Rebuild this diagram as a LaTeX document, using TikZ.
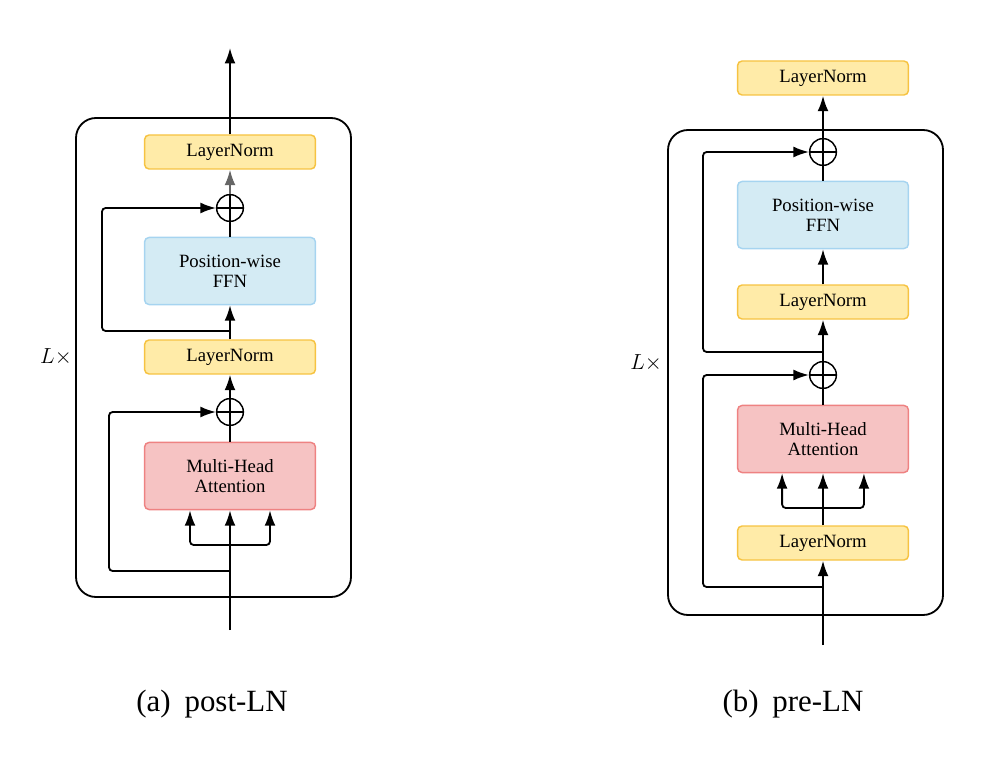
\documentclass[tikz,border=0pt]{standalone}
\usepackage{fontspec}
\setmainfont{Liberation Serif}
\usetikzlibrary{arrows.meta}
\definecolor{lnfill}{HTML}{FFEBA8}
\definecolor{lndraw}{HTML}{F6C342}
\definecolor{ffnfill}{HTML}{D4EBF4}
\definecolor{ffndraw}{HTML}{A6D4F0}
\definecolor{mhafill}{HTML}{F6C3C3}
\definecolor{mhadraw}{HTML}{EE8282}
\begin{document}
\begin{tikzpicture}[x=0.55pt,y=-0.55pt,>={Latex[length=8.5pt,width=6pt]},line width=1pt,
	blk/.style={rectangle,rounded corners=2.5pt,line width=0.8pt,minimum width=94pt,align=center,inner sep=1pt,font=\fontsize{10.3}{11}\selectfont},
	ln/.style={blk,fill=lnfill,draw=lndraw,minimum height=18.7pt},
	ffn/.style={blk,fill=ffnfill,draw=ffndraw,minimum height=36.9pt},
	mha/.style={blk,fill=mhafill,draw=mhadraw,minimum height=36.9pt},
	add/.style={circle,draw,line width=0.8pt,minimum size=14.7pt,inner sep=0pt,
		path picture={\draw[line width=0.8pt] (path picture bounding box.north) -- (path picture bounding box.south)
		(path picture bounding box.west) -- (path picture bounding box.east);}},
	res/.style={->,rounded corners=2pt},
	captxt/.style={font=\fontsize{17}{20}\selectfont},
	reptxt/.style={font=\fontsize{12}{14}\selectfont}]
		\useasboundingbox (0,0) rectangle (997,759);
		% (a) post-LN
		\draw[rounded corners=11pt] (76,118) rectangle (351,597);
		\node[ln] (lnTopA) at (230,152) {LayerNorm};
		\node[add] (addFA) at (230,208) {};
		\node[ffn] (ffnA) at (230,271) {Position-wise\\FFN};
		\node[ln] (lnMidA) at (230,357) {LayerNorm};
		\node[add] (addAA) at (230,412) {};
		\node[mha] (mhaA) at (230,476) {Multi-Head\\Attention};
		\coordinate (outA) at (230,48);
		\coordinate (inA) at (230,630);
		\coordinate (brFA) at (230,331);
		\coordinate (brAA) at (230,571);
		\coordinate (splA) at (230,545);
		\draw[->] (lnTopA) -- (outA);
		\draw[->,black!60] (addFA) -- (lnTopA);
		\draw (ffnA) -- (addFA);
		\draw[->] (lnMidA) -- (ffnA);
		\draw[res] (brFA) -- ++(-128,0) |- (addFA);
		\draw[->] (addAA) -- (lnMidA);
		\draw (mhaA) -- (addAA);
		\draw[res] (brAA) -- ++(-121,0) |- (addAA);
		\draw[->] (inA) -- (mhaA);
		\draw[res] (splA) -| ([xshift=-22pt]mhaA.south);
		\draw[res] (splA) -| ([xshift=22pt]mhaA.south);
		\node[reptxt] (lA) at (56,357) {$L\times$};
		\node[captxt] (capA) at (212,704) {(a)\hspace{0.45em}post-LN};
		% (b) pre-LN
		\draw[rounded corners=11pt] (668,130) rectangle (943,615);
		\node[ln] (lnTopB) at (823,78) {LayerNorm};
		\node[add] (addFB) at (823,152) {};
		\node[ffn] (ffnB) at (823,215) {Position-wise\\FFN};
		\node[ln] (lnMidB) at (823,302) {LayerNorm};
		\node[add] (addAB) at (823,375) {};
		\node[mha] (mhaB) at (823,439) {Multi-Head\\Attention};
		\node[ln] (lnBotB) at (823,543) {LayerNorm};
		\coordinate (inB) at (823,645);
		\coordinate (brFB) at (823,352);
		\coordinate (brAB) at (823,587);
		\coordinate (splB) at (823,508);
		\draw[->] (addFB) -- (lnTopB);
		\draw (ffnB) -- (addFB);
		\draw[->] (lnMidB) -- (ffnB);
		\draw[res] (brFB) -- ++(-120,0) |- (addFB);
		\draw[->] (addAB) -- (lnMidB);
		\draw (mhaB) -- (addAB);
		\draw[res] (brAB) -- ++(-120,0) |- (addAB);
		\draw[->] (lnBotB) -- (mhaB);
		\draw[res] (splB) -| ([xshift=-22.5pt]mhaB.south);
		\draw[res] (splB) -| ([xshift=22.5pt]mhaB.south);
		\draw[->] (inB) -- (lnBotB);
		\node[reptxt] (lB) at (646,363) {$L\times$};
		\node[captxt] (capB) at (793,704) {(b)\hspace{0.45em}pre-LN};
\end{tikzpicture}
\end{document}
